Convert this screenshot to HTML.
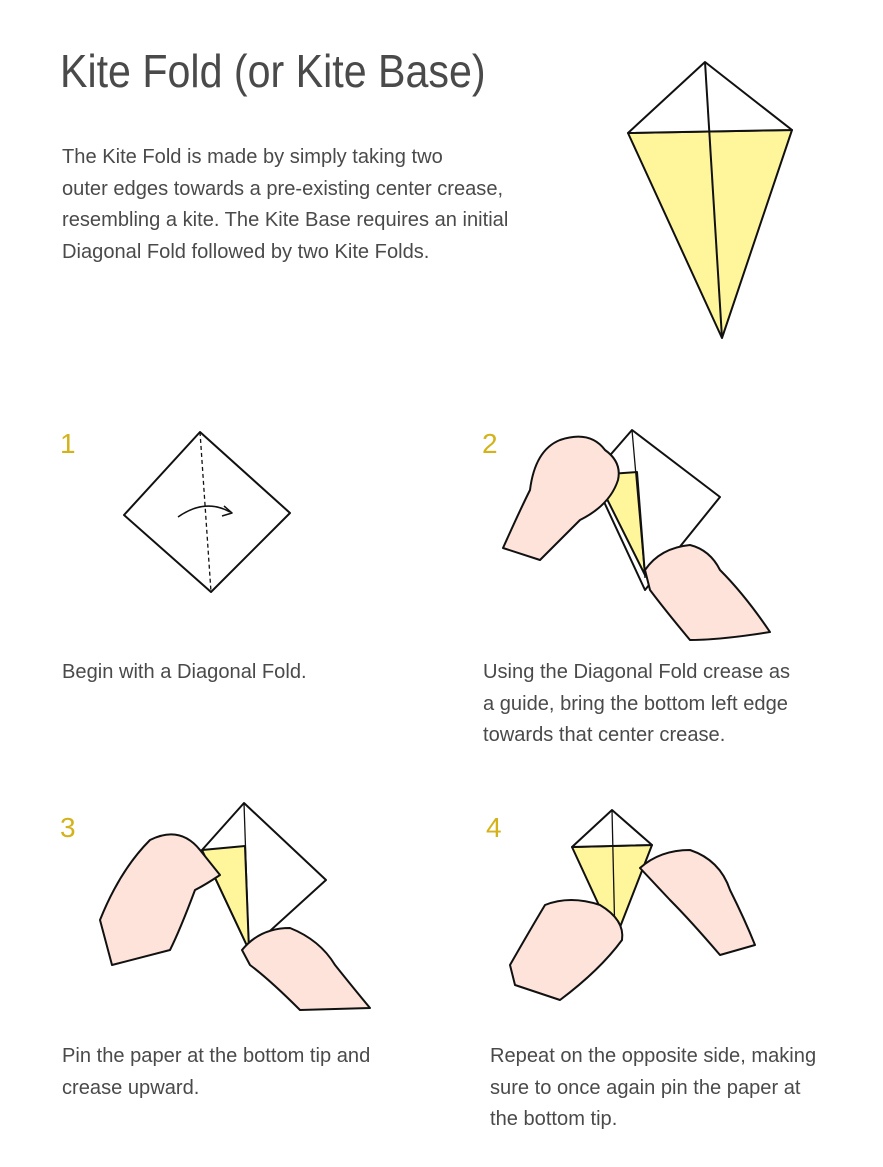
<!DOCTYPE html>
<html><head><meta charset="utf-8"><style>
html,body{margin:0;padding:0;background:#fff;}
body{width:883px;height:1167px;position:relative;overflow:hidden;font-family:"Liberation Sans Narrow","Liberation Sans",sans-serif;color:#4a4a4a;}
.t{position:absolute;white-space:nowrap;}
h1{position:absolute;left:60px;top:44px;margin:0;font-weight:normal;font-size:46px;color:#4a4a4a;transform:scaleX(0.895);transform-origin:0 0;white-space:nowrap;}
.p{font-size:20.5px;line-height:31.5px;transform:scaleX(0.98);transform-origin:0 0;}
.n{position:absolute;font-size:28px;color:#d4b21a;}
svg{position:absolute;left:0;top:0;}
</style></head><body>
<svg width="883" height="1167" viewBox="0 0 883 1167" fill="none" stroke="#111" stroke-width="2" stroke-linejoin="round">
<polygon points="628,133 792,130 722,338" fill="#fff59a"/>
<polygon points="705,62 628,133 792,130" fill="#fff"/>
<line x1="705" y1="62" x2="722" y2="338"/>
<polygon points="200,432 290,513 211,592 124,515" fill="#fff"/>
<line x1="200" y1="432" x2="211" y2="592" stroke-dasharray="4,3" stroke-width="1.3"/>
<path d="M178,517 Q205,498 230,512" stroke-width="1.5"/>
<path d="M224,506 L232,513 L222,516" stroke-width="1.5"/>
<polygon points="632,430 720,497 645,590 592,476" fill="#fff"/>
<polygon points="595,475 637,472 645,575" fill="#fff59a"/>
<line x1="632" y1="430" x2="645" y2="578" stroke-width="1.3"/>
<path d="M503,548 Q520,510 530,490 Q535,450 560,440 Q590,430 605,450 Q622,462 618,480 Q610,505 580,520 Q560,540 540,560 Z" fill="#fde3da"/>
<path d="M645,570 Q660,548 690,545 Q710,550 720,570 Q745,595 770,632 Q720,640 690,640 Q665,610 650,590 Z" fill="#fde3da"/>
<polygon points="244,803 326,880 249,950 202,850" fill="#fff"/>
<polygon points="202,850 245,846 249,950" fill="#fff59a"/>
<line x1="244" y1="803" x2="249" y2="950" stroke-width="1.3"/>
<path d="M100,920 Q120,870 150,840 Q180,825 200,850 L220,875 Q205,885 195,890 Q180,930 170,950 L112,965 Z" fill="#fde3da"/>
<path d="M242,950 Q260,928 290,928 Q320,940 335,965 Q355,990 370,1008 L300,1010 Q270,980 250,965 Z" fill="#fde3da"/>
<polygon points="572,847 652,845 615,940" fill="#fff59a"/>
<polygon points="612,810 572,847 652,845" fill="#fff"/>
<line x1="612" y1="810" x2="615" y2="940" stroke-width="1.3"/>
<path d="M510,965 Q530,930 545,905 Q570,895 600,905 Q625,920 622,940 Q600,970 560,1000 L515,985 Z" fill="#fde3da"/>
<path d="M640,868 Q660,850 690,850 Q720,860 730,890 Q745,920 755,945 L720,955 Q690,920 670,900 Z" fill="#fde3da"/>
</svg>
<h1>Kite Fold (or Kite Base)</h1>
<div class="t p" style="left:62px;top:141px;">The Kite Fold is made by simply taking two<br>outer edges towards a pre-existing center crease,<br>resembling a kite. The Kite Base requires an initial<br>Diagonal Fold followed by two Kite Folds.</div>
<div class="n" style="left:60px;top:428px;">1</div>
<div class="n" style="left:482px;top:428px;">2</div>
<div class="n" style="left:60px;top:812px;">3</div>
<div class="n" style="left:486px;top:812px;">4</div>
<div class="t p" style="left:62px;top:656px;">Begin with a Diagonal Fold.</div>
<div class="t p" style="left:483px;top:656px;">Using the Diagonal Fold crease as<br>a guide, bring the bottom left edge<br>towards that center crease.</div>
<div class="t p" style="left:62px;top:1040px;">Pin the paper at the bottom tip and<br>crease upward.</div>
<div class="t p" style="left:490px;top:1040px;">Repeat on the opposite side, making<br>sure to once again pin the paper at<br>the bottom tip.</div>
</body></html>
